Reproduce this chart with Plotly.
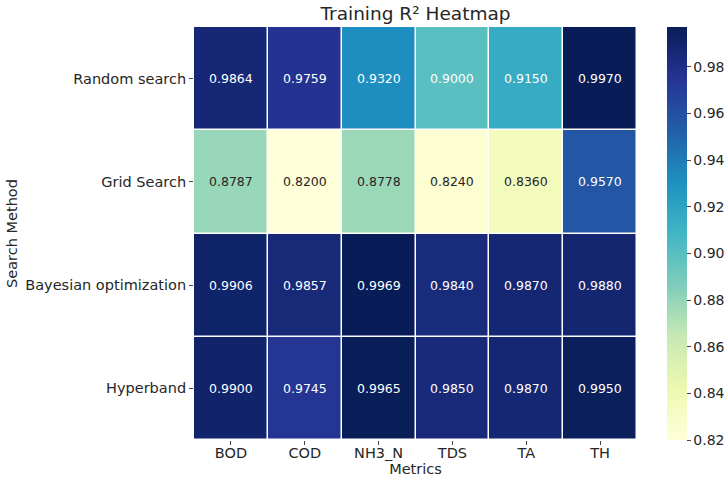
import plotly.graph_objects as go

metrics = ["BOD", "COD", "NH3_N", "TDS", "TA", "TH"]
methods = ["Random search", "Grid Search", "Bayesian optimization", "Hyperband"]
r2_random = [0.9864, 0.9759, 0.9320, 0.9000, 0.9150, 0.9970]
r2_grid = [0.8787, 0.8200, 0.8778, 0.8240, 0.8360, 0.9570]
r2_bayes = [0.9906, 0.9857, 0.9969, 0.9840, 0.9870, 0.9880]
r2_hyper = [0.9900, 0.9745, 0.9965, 0.9850, 0.9870, 0.9950]
cbar_ticks = [0.82, 0.84, 0.86, 0.88, 0.90, 0.92, 0.94, 0.96, 0.98]

z = [r2_random, r2_grid, r2_bayes, r2_hyper]
zmin = min(min(r) for r in z)
zmax = max(max(r) for r in z)

ylgnbu = ["#ffffd9", "#edf8b1", "#c7e9b4", "#7fcdbb", "#41b6c4",
          "#1d91c0", "#225ea8", "#253494", "#081d58"]
cs = [[i / (len(ylgnbu) - 1), c] for i, c in enumerate(ylgnbu)]

FONT = "DejaVu Sans"
DARK = "#262626"

fig = go.Figure(go.Heatmap(
    z=z, x=metrics, y=methods, colorscale=cs, zmin=zmin, zmax=zmax,
    xgap=1.5, ygap=1.5,
    hoverinfo="skip",
    colorbar=dict(
        x=1.0677, xanchor="left", xref="paper", xpad=0, y=0.5, yanchor="middle",
        len=1.0, lenmode="fraction", thickness=20, outlinewidth=0, ypad=0,
        tickvals=cbar_ticks, ticktext=[f"{v:.2f}" for v in cbar_ticks],
        ticks="outside", ticklen=4, tickwidth=1, tickcolor="#444",
        tickfont=dict(family=FONT, size=14, color=DARK),
    ),
))

annotations = []
for i, row in enumerate(z):
    for j, v in enumerate(row):
        col = DARK if (v - zmin) / (zmax - zmin) < 0.38 else "#ffffff"
        annotations.append(dict(
            x=metrics[j], y=methods[i], xref="x", yref="y",
            text=f"{v:.4f}", showarrow=False,
            font=dict(family=FONT, size=12.5, color=col),
        ))

fig.update_layout(
    width=726, height=482,
    margin=dict(l=194, r=89, t=27, b=42, autoexpand=False),
    paper_bgcolor="white", plot_bgcolor="white",
    font=dict(family=FONT, color=DARK),
    title=dict(text="Training R² Heatmap", x=0.5, xref="paper", xanchor="center",
               y=1 - 13.5 / 482, yref="container", yanchor="middle",
               font=dict(family=FONT, size=18.5, color=DARK)),
    annotations=annotations,
    xaxis=dict(
        title=dict(text="Metrics", font=dict(family=FONT, size=14.5, color=DARK), standoff=2),
        tickfont=dict(family=FONT, size=14.5, color=DARK),
        ticks="outside", ticklen=4, tickcolor="#444", showgrid=False, zeroline=False,
        showline=False, automargin=False, ticklabelstandoff=-4,
    ),
    yaxis=dict(
        title=dict(text="Search Method", font=dict(family=FONT, size=14.5, color=DARK), standoff=4),
        tickfont=dict(family=FONT, size=14.5, color=DARK),
        ticks="outside", ticklen=4, tickcolor="#444", showgrid=False, zeroline=False,
        showline=False, autorange="reversed", automargin=False,
    ),
)

fig.write_html("out.html")
